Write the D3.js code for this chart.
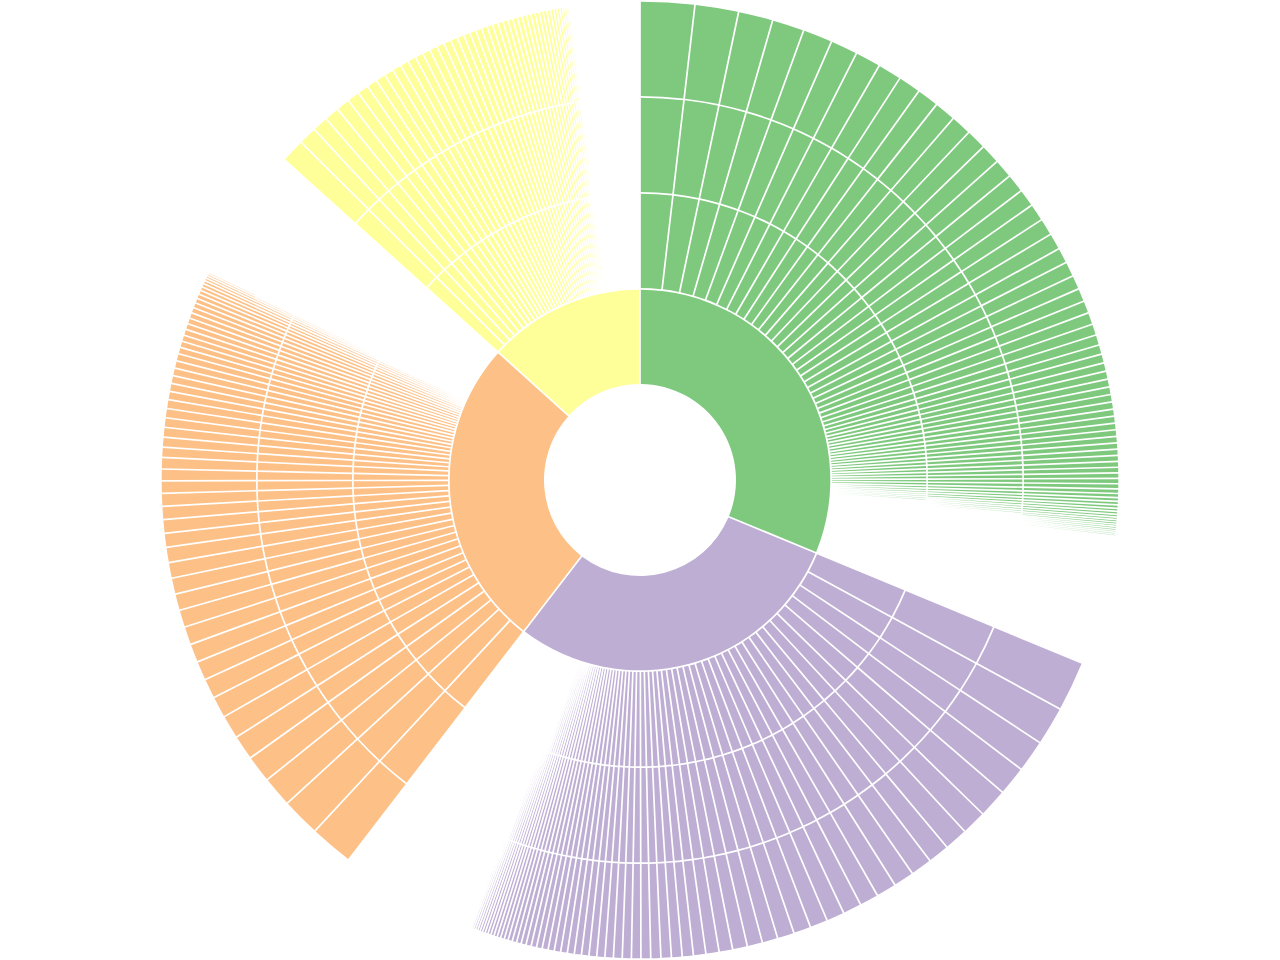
<!DOCTYPE html>
<html>
<head>
<meta charset="utf-8">
<script src="https://cdn.jsdelivr.net/npm/d3@7"></script>
<style>
  body { margin: 0; background: #fff; }
</style>
</head>
<body>
<div id="wrapper"></div>
<script>
// categories, clockwise from 12 o'clock
const categoryNames = ["A", "B", "C", "D"];
// angular share of each category on the inner ring (degrees)
const categoryTotals = [112.5, 105, 94.5, 48];

// child sizes per category (sorted, largest first)
const greenValues = [
  6.6, 5.3, 4.2, 3.9, 3.6, 3.3, 3.1, 2.9, 2.75, 2.65, 2.6,
  2.5, 2.45, 2.4, 2.3, 2.25, 2.15, 2.1, 2.05, 2.0,
  1.85, 1.8, 1.7, 1.6, 1.5, 1.45, 1.35, 1.25, 1.15, 1.08, 1.02, 0.98, 0.95, 0.92, 0.9,
  0.88, 0.85, 0.83, 0.81, 0.8, 0.78, 0.76, 0.74, 0.72, 0.7, 0.68, 0.66, 0.64, 0.62,
  0.55, 0.5, 0.45, 0.42, 0.4, 0.37, 0.35, 0.33, 0.31, 0.29, 0.27, 0.26, 0.25, 0.24,
  0.23, 0.22, 0.21, 0.2, 0.19, 0.18, 0.17, 0.16, 0.15, 0.14, 0.13, 0.12, 0.11, 0.1
];
const purpleValues = [
  6.1, 4.7, 3.9, 3.55, 3.5, 3.0, 2.85, 2.6, 2.6, 2.5, 2.45, 2.3, 2.25, 2.18, 2.15, 2.1,
  2.05, 1.9, 1.85, 1.8, 1.65, 1.6, 1.5, 1.35, 1.3, 1.26, 1.22, 1.18, 1.14, 1.1, 1.06,
  1.02, 0.98, 0.94, 0.9, 0.87, 0.84, 0.81, 0.78, 0.75, 0.72, 0.69, 0.66, 0.63, 0.6,
  0.57, 0.54, 0.51, 0.48, 0.45, 0.43, 0.41, 0.39, 0.37, 0.35, 0.33, 0.31, 0.29, 0.27,
  0.25, 0.23, 0.21, 0.19, 0.17, 0.15, 0.13, 0.11
];
const orangeValues = [
  5.3, 4.7, 3.7, 3.3, 3.0, 2.85, 2.6, 2.4, 2.3, 2.25, 2.2, 2.1, 2.0, 1.95, 1.9, 1.85,
  1.7, 1.65, 1.6, 1.55, 1.5, 1.42, 1.38, 1.25, 1.2, 1.18, 1.15, 1.12, 1.08, 1.0, 0.97,
  0.95, 0.93, 0.9, 0.87, 0.8, 0.77, 0.75, 0.73, 0.72, 0.7, 0.68, 0.65, 0.62, 0.58, 0.55,
  0.5, 0.46, 0.42, 0.38, 0.34, 0.3, 0.27, 0.24, 0.21, 0.18, 0.16, 0.14, 0.12, 0.1
];
const yellowValues = [
  2.9, 2.2, 1.9, 1.8, 1.65, 1.5, 1.35, 1.28, 1.2, 1.12, 1.08, 1.04, 1.0, 0.98, 0.96,
  0.94, 0.92, 0.88, 0.86, 0.83, 0.78, 0.76, 0.73, 0.71, 0.68, 0.66, 0.64, 0.62, 0.6,
  0.58, 0.57, 0.55, 0.53, 0.52, 0.5, 0.48, 0.46, 0.43, 0.41, 0.38, 0.35, 0.32, 0.29,
  0.26, 0.23, 0.2, 0.17, 0.14, 0.12, 0.1
];
const seriesValues = [greenValues, purpleValues, orangeValues, yellowValues];

function drawChart() {

    const dimensions = {
        width: 1280,
        height: 960
    }
    const radius = 480;

    // each child carries one chain down to depth 4, the rest of the
    // category sits on the category node itself
    const data = {
        name: "root",
        children: categoryNames.map((name, i) => {
            const values = seriesValues[i];
            return {
                name: name,
                value: categoryTotals[i] - d3.sum(values),
                children: values.map((v, j) => ({
                    name: `${name}-${j}`,
                    children: [{
                        name: `${name}-${j}-a`,
                        children: [{ name: `${name}-${j}-b`, value: v }]
                    }]
                }))
            }
        })
    }

    const root = d3.partition()
        .size([2 * Math.PI, radius])(
            d3.hierarchy(data).sum(d => d.value)
        );

    const color = d3.scaleOrdinal(categoryNames, d3.schemeAccent);

    // fixed pad (about 1.7px): very thin slices shrink away to nothing
    const arc = d3.arc()
        .startAngle(d => d.x0)
        .endAngle(d => d.x1)
        .padAngle(0.005)
        .padRadius(340)
        .innerRadius(d => d.y0)
        .outerRadius(d => d.y1 - 1.7);

    const wrapper = d3.select("#wrapper")
        .append("svg")
        .attr("width", dimensions.width)
        .attr("height", dimensions.height);

    const boundingBox = wrapper.append("g")
        .attr("transform", `translate(${dimensions.width / 2},${dimensions.height / 2})`);

    boundingBox.selectAll("path")
        .data(root.descendants().filter(d => d.depth))
        .join("path")
        .attr("d", arc)
        .attr("fill", d => {
            let node = d;
            while (node.depth > 1) node = node.parent;
            return color(node.data.name);
        });
}
drawChart()
</script>
</body>
</html>
